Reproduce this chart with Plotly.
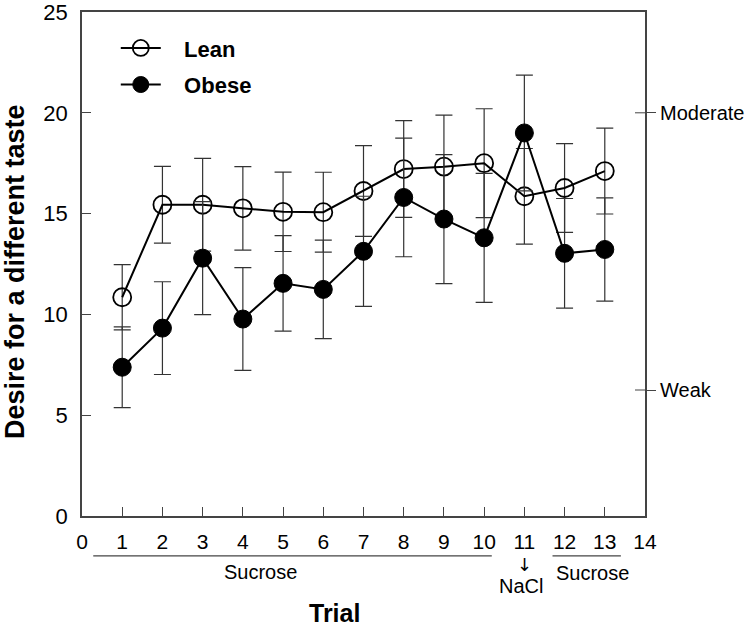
import plotly.graph_objects as go

trials = list(range(1, 14))
lean = [10.85, 15.44, 15.44, 15.26, 15.09, 15.07, 16.12, 17.21, 17.33, 17.50, 15.86, 16.27, 17.11]
lean_err = [1.62, 1.90, 2.30, 2.07, 1.97, 1.98, 2.25, 2.40, 2.55, 2.70, 2.37, 2.20, 2.13]
obese = [7.38, 9.32, 12.79, 9.77, 11.54, 11.24, 13.13, 15.80, 14.73, 13.80, 19.00, 13.03, 13.22]
obese_err = [2.00, 2.30, 2.80, 2.55, 2.37, 2.44, 2.73, 2.94, 3.20, 3.20, 2.87, 2.72, 2.56]

x_ticks = list(range(0, 15))
y_ticks = [0, 5, 10, 15, 20, 25]
scale_vals = [20.0, 6.25]
scale_labels = ["Moderate", "Weak"]

FONT = "Liberation Sans, Arial, sans-serif"
INK = "#000000"
AX = "#444444"
PAD = "\u00a0\u00a0\u00a0"

fig = go.Figure()
fig.add_trace(go.Scatter(
    x=trials, y=lean, name=PAD + "Lean", mode="lines+markers", legendgroup="lean",
    line=dict(color=INK, width=2),
    marker=dict(symbol="circle-open", size=18, color=INK, line=dict(width=1.8, color=INK)),
    error_y=dict(type="data", array=lean_err, visible=True, color="#333333", thickness=1.2, width=8.5),
))
fig.add_trace(go.Scatter(
    x=trials, y=obese, name=PAD + "Obese", mode="lines+markers", legendgroup="obese",
    line=dict(color=INK, width=2),
    marker=dict(symbol="circle", size=18, color=INK, line=dict(width=1, color=INK)),
    error_y=dict(type="data", array=obese_err, visible=True, color="#333333", thickness=1.2, width=8.5),
))
# invisible helper trace for the right-hand scale axis
fig.add_trace(go.Scatter(x=[0], y=[0], yaxis="y2", mode="markers",
                         marker=dict(opacity=0), showlegend=False, hoverinfo="skip"))

fig.update_layout(
    width=751, height=628,
    margin=dict(l=82, r=106, t=12, b=112, autoexpand=False),
    paper_bgcolor="white", plot_bgcolor="white",
    font=dict(family=FONT, color=INK),
    showlegend=True,
    legend=dict(x=0.06, y=0.97, xanchor="left", yanchor="top",
                font=dict(size=22, family=FONT, color=INK, weight="bold"),
                bgcolor="rgba(0,0,0,0)", tracegroupgap=5, itemwidth=40),
    xaxis=dict(range=[0, 14], tickvals=x_ticks, ticktext=[str(v) for v in x_ticks],
               ticks="inside", ticklen=9, tickwidth=1, tickcolor=AX, automargin=False,
               showline=True, linecolor=AX, linewidth=1.5, mirror=True,
               showgrid=False, zeroline=False, ticklabeloverflow="allow",
               tickfont=dict(size=21, family=FONT, color=INK), ticklabelstandoff=6),
    yaxis=dict(range=[0, 25], tickvals=y_ticks, automargin=False,
               ticks="inside", ticklen=9, tickwidth=1, tickcolor=AX,
               showline=True, linecolor=AX, linewidth=1.5, mirror=True,
               showgrid=False, zeroline=False, ticklabeloverflow="allow",
               tickfont=dict(size=22, family=FONT, color=INK), ticklabelstandoff=8),
    yaxis2=dict(range=[0, 25], overlaying="y", side="right", tickvals=scale_vals, automargin=False,
                ticktext=scale_labels, ticks="outside", ticklen=10, tickwidth=1, tickcolor=AX,
                showline=False, showgrid=False, zeroline=False, ticklabeloverflow="allow",
                tickfont=dict(size=20, family=FONT, color=INK), ticklabelstandoff=0),
)

# inner half of the right-hand scale ticks
for v in scale_vals:
    fig.add_shape(type="line", xref="paper", yref="y", x0=1 - 10 / 563, x1=1, y0=v, y1=v,
                  line=dict(color=AX, width=1))

# Axis titles
fig.add_annotation(text="<b>Desire for a different taste</b>", xref="paper", yref="paper",
                   x=-0.119, y=0.484, textangle=-90, showarrow=False,
                   xanchor="center", yanchor="middle",
                   font=dict(size=27, family=FONT, color=INK))
fig.add_annotation(text="<b>Trial</b>", xref="paper", yref="paper",
                   x=0.449, y=-0.192, showarrow=False, xanchor="center", yanchor="middle",
                   font=dict(size=25, family=FONT, color=INK))

# Stimulus annotations below the x axis
segments = [(0.28, 10.19), (11.7, 13.4)]
for a, b in segments:
    fig.add_shape(type="line", xref="x", yref="paper", x0=a, x1=b, y0=-0.079, y1=-0.079,
                  line=dict(color=AX, width=1.2))
notes = [("Sucrose", 4.43, -0.111, 20, FONT),
         ("Sucrose", 12.7, -0.113, 20, FONT),
         ("↓", 11.0, -0.097, 18, "DejaVu Sans"),
         ("NaCl", 10.92, -0.139, 20, FONT)]
for txt, xx, yy, fs, fam in notes:
    fig.add_annotation(text=txt, xref="x", yref="paper", x=xx, y=yy, showarrow=False,
                       xanchor="center", yanchor="middle",
                       font=dict(size=fs, family=fam, color=INK))

fig.write_html("out.html", config={"displayModeBar": False},
               post_script="document.body.style.margin='0';document.body.style.padding='0';")
